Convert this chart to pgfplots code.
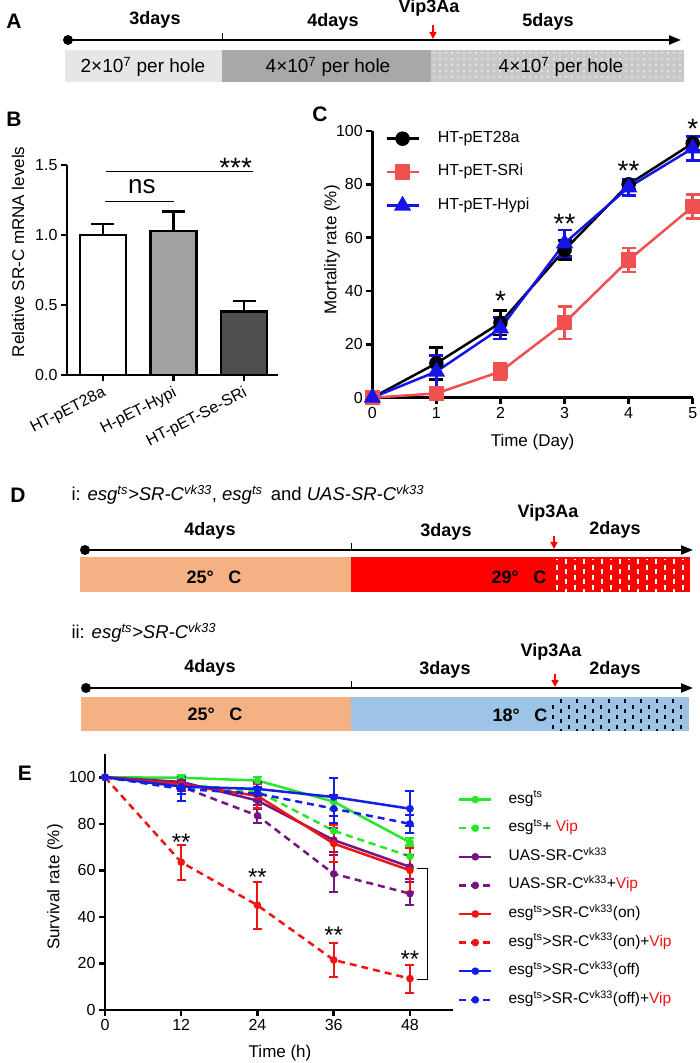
\documentclass[border=0pt]{standalone}
\usepackage{pgfplots}
\pgfplotsset{compat=1.18}
\usepackage{fontspec}
\setmainfont{Liberation Sans}
\usetikzlibrary{arrows.meta}
\definecolor{segA}{RGB}{230,230,230}
\definecolor{segB}{RGB}{170,168,166}
\definecolor{segC}{RGB}{200,200,200}
\definecolor{peach}{RGB}{244,177,131}
\definecolor{skyb}{RGB}{157,195,230}
\definecolor{cred}{RGB}{240,80,80}
\definecolor{cblue}{RGB}{20,20,230}
\definecolor{egreen}{RGB}{40,230,40}
\definecolor{epurple}{RGB}{120,20,130}
\definecolor{ered}{RGB}{240,20,20}
\definecolor{eblue}{RGB}{20,30,230}
\newcommand{\fs}[1]{\fontsize{#1}{#1}\selectfont}
\newcommand{\sts}{\textsuperscript{ts}}
\newcommand{\svk}{\textsuperscript{vk33}}
\newcommand{\Vip}{\textcolor{ered}{Vip}}
\pgfplotsset{
  gp/.style={scale only axis, axis lines=left, axis line style={-,line width=2.5pt},
    tick align=outside, major tick length=6pt, tick style={line width=2.5pt,black},
    clip=false, /pgf/number format/assume math mode=true,
    tick label style={font=\fs{16}}, label style={font=\fs{17}}},
  eerr/.style={error bars/y dir=both, error bars/y explicit,
    error bars/error bar style={line width=2pt, solid},
    error bars/error mark options={rotate=90, line width=2pt, mark size=4.5pt, solid}},
  cerr/.style={error bars/y dir=both, error bars/y explicit,
    error bars/error bar style={line width=2.5pt, solid},
    error bars/error mark options={rotate=90, line width=2.5pt, mark size=7pt, solid}},
  berr/.style={error bars/y dir=plus, error bars/y explicit,
    error bars/error bar style={line width=2.5pt},
    error bars/error mark options={rotate=90, line width=2.5pt, mark size=11.5pt}},
  esol/.style={line width=2.5pt, mark=*, mark size=2.5pt, mark options={solid}},
  edsh/.style={line width=2.5pt, dash pattern=on 7pt off 5pt, mark=*, mark size=2.5pt, mark options={solid}},
}
\begin{document}
\begin{tikzpicture}
\useasboundingbox (0,0) rectangle (699pt,1063pt);
\begin{scope}[x=1pt,y=-1pt,shift={(0pt,1063pt)}]
% ---------- Panel A ----------
\node[font=\fs{21}\bfseries] at (14,21) {A};
\fill[segA] (65,50) rectangle (222,82);
\fill[segB] (222,50) rectangle (431,82);
\fill[segC] (431,50) rectangle (684,82);
\foreach \xx in {434,440,...,682} \foreach \yy in {53,59,...,80} \fill[white] (\xx,\yy) circle (0.8pt);
\draw[line width=2.2pt, -{Triangle[length=12pt,width=9pt]}] (68,40) -- (681,40);
\fill (68,40) circle (5pt);
\draw[line width=1pt] (222,33) -- (222,40);
\draw[red, line width=1.5pt, -{Triangle[length=7pt,width=7pt]}] (433,25) -- (433,39);
\node[font=\fs{18}\bfseries] at (155,20) {3days};
\node[font=\fs{18}\bfseries] at (333,22) {4days};
\node[font=\fs{18}\bfseries] at (429,8) {Vip3Aa};
\node[font=\fs{18}\bfseries] at (548,22) {5days};
\node[font=\fs{19}] at (143,67) {2×10\textsuperscript{7} per hole};
\node[font=\fs{19}] at (328,67) {4×10\textsuperscript{7} per hole};
\node[font=\fs{19}] at (561,67) {4×10\textsuperscript{7} per hole};
% ---------- Panel labels ----------
\node[font=\fs{21}\bfseries] at (14,119) {B};
\node[font=\fs{21}\bfseries] at (320,114) {C};
\node[font=\fs{21}\bfseries] at (18,495) {D};
\node[font=\fs{21}\bfseries] at (25,773) {E};
% ---------- Panel D i ----------
\node[font=\fs{18.5}, anchor=west] at (68,495) {i: \textit{esg\sts>SR-C\svk}, \textit{esg\sts}\, and \textit{UAS-SR-C\svk}};
\fill[peach] (80,557) rectangle (351,592);
\fill[red] (351,557) rectangle (690,592);
\foreach \xx [count=\i] in {557,566,...,688} {
  \pgfmathsetmacro{\ph}{mod(\i,2)*4}
  \draw[white, line width=1.3pt, dash pattern=on 5pt off 5pt, dash phase=\ph pt] (\xx,559) -- (\xx,592);
}
\draw[line width=2pt, -{Triangle[length=12pt,width=9pt]}] (85,550) -- (693,550);
\fill (85,550) circle (5pt);
\draw[line width=1pt] (351,543) -- (351,550);
\draw[red, line width=1.5pt, -{Triangle[length=7pt,width=7pt]}] (554,536) -- (554,549);
\node[font=\fs{18}\bfseries] at (210,531) {4days};
\node[font=\fs{18}\bfseries] at (446,532) {3days};
\node[font=\fs{18}\bfseries] at (548,513) {Vip3Aa};
\node[font=\fs{18}\bfseries] at (615,530) {2days};
\node[font=\fs{18}\bfseries] at (214,577) {25°\hspace{0.8em}C};
\node[font=\fs{18}\bfseries] at (519,577) {29°\hspace{0.8em}C};
% ---------- Panel D ii ----------
\node[font=\fs{18.5}, anchor=west] at (68,633) {ii: \textit{esg\sts>SR-C\svk}};
\fill[peach] (81,697) rectangle (351,731);
\fill[skyb] (351,697) rectangle (689,731);
\foreach \xx [count=\i] in {553,561,...,688} {
  \pgfmathsetmacro{\ph}{mod(\i,2)*4}
  \draw[black, line width=1.2pt, dash pattern=on 4pt off 6pt, dash phase=\ph pt] (\xx,699) -- (\xx,731);
}
\draw[line width=2pt, -{Triangle[length=12pt,width=9pt]}] (86,688) -- (693,688);
\fill (86,688) circle (5pt);
\draw[line width=1pt] (351,681) -- (351,688);
\draw[red, line width=1.5pt, -{Triangle[length=7pt,width=7pt]}] (555,674) -- (555,687);
\node[font=\fs{18}\bfseries] at (210,668) {4days};
\node[font=\fs{18}\bfseries] at (445,670) {3days};
\node[font=\fs{18}\bfseries] at (551,652) {Vip3Aa};
\node[font=\fs{18}\bfseries] at (615,670) {2days};
\node[font=\fs{18}\bfseries] at (215,714) {25°\hspace{0.8em}C};
\node[font=\fs{18}\bfseries] at (520,715) {18°\hspace{0.8em}C};
\end{scope}

% ---------- Panel B ----------
\begin{axis}[gp, at={(67pt,688pt)}, anchor=south west, width=211pt, height=210pt,
  xmin=-0.51, xmax=2.48, ymin=0, ymax=1.5,
  ytick={0,0.5,1,1.5}, yticklabels={0.0,0.5,1.0,1.5},
  xtick={0,1,2}, xticklabels={HT-pET28a,H-pET-Hypi,HT-pET-Se-SRi},
  xticklabel style={rotate=27, anchor=north east, font=\fs{16}},
  ylabel={Relative SR-C mRNA levels},
  ylabel style={at={(axis description cs:-0.232,0.586)}, anchor=center}]
\addplot[ybar, bar width=46pt, bar shift=0pt, fill=white, draw=black, line width=2.5pt, berr]
  coordinates {(0,1.0) +- (0,0.08)};
\addplot[ybar, bar width=46pt, bar shift=0pt, fill=black!37, draw=black, line width=2.5pt, berr]
  coordinates {(1,1.027) +- (0,0.14)};
\addplot[ybar, bar width=46pt, bar shift=0pt, fill=black!69, draw=black, line width=2.5pt, berr]
  coordinates {(2,0.455) +- (0,0.072)};
\draw[line width=1.5pt] (axis cs:0.03,1.238) -- (axis cs:1.0,1.238);
\draw[line width=1.5pt] (axis cs:0.04,1.452) -- (axis cs:2.13,1.452);
\node[font=\fs{26}, anchor=base] at (axis cs:0.55,1.297) {ns};
\node[font=\fs{28}, anchor=base] at (axis cs:1.88,1.409) {***};
\end{axis}

% ---------- Panel C ----------
\begin{axis}[gp, at={(372.3pt,665.3pt)}, anchor=south west, width=320.4pt, height=266.7pt,
  xmin=0, xmax=5, ymin=0, ymax=100,
  xtick={0,1,2,3,4,5}, ytick={0,20,40,60,80,100},
  xlabel={Time (Day)}, ylabel={Mortality rate (\%)},
  xlabel style={at={(axis description cs:0.5,-0.166)}, anchor=center},
  ylabel style={at={(axis description cs:-0.126,0.554)}, anchor=center},
  legend style={at={(axis description cs:0.04,1.0)}, anchor=north west, draw=none, fill=none,
    inner sep=0pt, row sep=18.5pt, column sep=18pt, font=\fs{16},
    nodes={inner sep=0pt, text height=11pt, text depth=4pt}},
  legend cell align=left,
  legend image code/.code={\draw[mark repeat=2,mark phase=2,#1] plot coordinates {(0pt,0pt) (16pt,0pt) (32pt,0pt)};}]
\addplot[black, line width=2.5pt, mark=*, mark size=6pt, cerr] coordinates {
 (0,0) +- (0,0) (1,12.9) +- (0,6) (2,28.1) +- (0,4.5) (3,55.4) +- (0,3.5) (4,80) +- (0,2) (5,95.4) +- (0,2.5)};
\addlegendentry{HT-pET28a}
\addplot[cred, line width=2.5pt, mark=square*, mark size=6.5pt, cerr] coordinates {
 (0,0) +- (0,0) (1,1.6) +- (0,1.5) (2,9.8) +- (0,3) (3,28.1) +- (0,6) (4,51.6) +- (0,4.5) (5,71.6) +- (0,4.5)};
\addlegendentry{HT-pET-SRi}
\addplot[cblue, line width=2.5pt, mark=triangle*, mark size=7.5pt, cerr] coordinates {
 (0,0) +- (0,0) (1,9.8) +- (0,6) (2,26) +- (0,4) (3,57.9) +- (0,5) (4,78.9) +- (0,3) (5,93.5) +- (0,4.5)};
\addlegendentry{HT-pET-Hypi}
\node[font=\fs{28}, anchor=base] at (axis cs:2,32.6) {*};
\node[font=\fs{28}, anchor=base] at (axis cs:3,61.4) {**};
\node[font=\fs{28}, anchor=base] at (axis cs:4,81.4) {**};
\node[font=\fs{28}, anchor=base] at (axis cs:5,97.0) {*};
\end{axis}

% ---------- Panel E ----------
\begin{axis}[gp, at={(105pt,53pt)}, anchor=south west, width=348pt, height=256pt,
  xmin=0, xmax=54.77, ymin=0, ymax=110,
  xtick={0,12,24,36,48}, ytick={0,20,40,60,80,100},
  xlabel={Time (h)}, ylabel={Survival rate (\%)},
  xlabel style={at={(axis description cs:0.503,-0.168)}, anchor=center},
  ylabel style={at={(axis description cs:-0.144,0.48)}, anchor=center},
  legend style={at={(axis description cs:1.014,0.852)}, anchor=north west, draw=none, fill=none,
    inner sep=0pt, row sep=13.6pt, column sep=16pt, font=\fs{15.5},
    nodes={inner sep=0pt, text height=11pt, text depth=4pt}},
  legend cell align=left,
  legend image code/.code={\draw[mark repeat=2,mark phase=2,#1] plot coordinates {(0pt,0pt) (16pt,0pt) (32pt,0pt)};}]
\addplot[egreen, esol, eerr] coordinates {
 (0,100) +- (0,0) (12,99.8) +- (0,1) (24,98.6) +- (0,1.5) (36,89.5) +- (0,3) (48,72) +- (0,2)};
\addlegendentry{esg\sts}
\addplot[egreen, edsh, eerr] coordinates {
 (0,100) +- (0,0) (12,97) +- (0,2) (24,94) +- (0,6) (36,77) +- (0,9) (48,66) +- (0,5)};
\addlegendentry{esg\sts+ \Vip}
\addplot[epurple, esol, eerr] coordinates {
 (0,100) +- (0,0) (12,98) +- (0,2) (24,90) +- (0,2) (36,73) +- (0,5) (48,61.5) +- (0,5)};
\addlegendentry{UAS-SR-C\svk}
\addplot[epurple, edsh, eerr] coordinates {
 (0,100) +- (0,0) (12,96) +- (0,2) (24,83.5) +- (0,3) (36,58.5) +- (0,8) (48,50) +- (0,5)};
\addlegendentry{UAS-SR-C\svk+\Vip}
\addplot[ered, esol, eerr] coordinates {
 (0,100) +- (0,0) (12,97) +- (0,2) (24,92) +- (0,5) (36,71.5) +- (0,8) (48,60) +- (0,9.5)};
\addlegendentry{esg\sts>SR-C\svk(on)}
\addplot[ered, edsh, eerr] coordinates {
 (0,100) +- (0,0) (12,63.5) +- (0,7.5) (24,45) +- (0,10) (36,21.5) +- (0,7.5) (48,13.5) +- (0,6)};
\addlegendentry{esg\sts>SR-C\svk(on)+\Vip}
\addplot[eblue, esol, eerr] coordinates {
 (0,100) +- (0,0) (12,96) +- (0,3) (24,95) +- (0,3) (36,91.5) +- (0,8) (48,86.5) +- (0,7.5)};
\addlegendentry{esg\sts>SR-C\svk(off)}
\addplot[eblue, edsh, eerr] coordinates {
 (0,100) +- (0,0) (12,95) +- (0,5) (24,93) +- (0,3) (36,86.5) +- (0,6) (48,80) +- (0,4)};
\addlegendentry{esg\sts>SR-C\svk(off)+\Vip}
\draw[line width=1pt] (axis cs:49.1,60.6) -- (axis cs:50.7,60.6) -- (axis cs:50.7,12.9) -- (axis cs:49.1,12.9);
\node[font=\fs{24}, anchor=base] at (axis cs:12,68.6) {**};
\node[font=\fs{24}, anchor=base] at (axis cs:24,53.7) {**};
\node[font=\fs{24}, anchor=base] at (axis cs:36,28.6) {**};
\node[font=\fs{24}, anchor=base] at (axis cs:48,18.3) {**};
\end{axis}
\end{tikzpicture}
\end{document}
